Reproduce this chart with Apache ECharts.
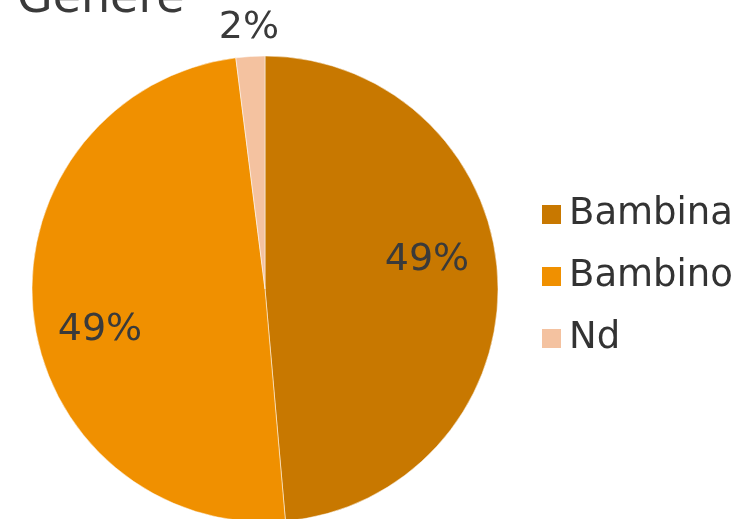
<!DOCTYPE html>
<html><head><meta charset="utf-8">
<script src="https://cdn.jsdelivr.net/npm/echarts@6/dist/echarts.min.js"></script>
<style>html,body{margin:0;padding:0;background:#fff}#c{width:747px;height:519px}</style>
</head><body><div id="c"></div>
<script>
const titleText = 'Genere';
const categories = ['Bambina', 'Bambino', 'Nd'];
const values = [48.6, 49.4, 2.0];
const colors = ['#C87800', '#F09000', '#F4C2A0'];
const labelPos = [[427, 260], [100, 330], [249, 28]];

const FONT = 'DejaVu Sans';
const chart = echarts.init(document.getElementById('c'));
const total = values.reduce((a, b) => a + b, 0);
chart.setOption({
  animation: false,
  title: { text: titleText, left: 12, top: -28, textStyle: { fontFamily: FONT, fontSize: 46, fontWeight: 'normal', color: '#3A3A3A' } },
  legend: {
    orient: 'vertical', left: 540, top: 196, padding: 0, itemWidth: 21, itemHeight: 21, itemGap: 25,
    icon: 'rect', data: categories,
    textStyle: { fontFamily: FONT, fontSize: 37, lineHeight: 36, color: '#333333', padding: [0, 0, 0, 2] }
  },
  series: [{
    type: 'pie', radius: 233, center: [265, 289], startAngle: 90, clockwise: true,
    data: categories.map((n, i) => ({ name: n, value: values[i], itemStyle: { color: colors[i] } })),
    itemStyle: { borderColor: '#ffffff', borderWidth: 0.5 },
    label: {
      show: true, position: 'inside', fontFamily: FONT, fontSize: 38, color: '#3A3A3A',
      formatter: p => Math.round(p.value / total * 100) + '%'
    },
    labelLine: { show: false },
    labelLayout: p => ({ x: labelPos[p.dataIndex][0], y: labelPos[p.dataIndex][1], align: 'center', verticalAlign: 'middle' })
  }]
});
</script></body></html>
